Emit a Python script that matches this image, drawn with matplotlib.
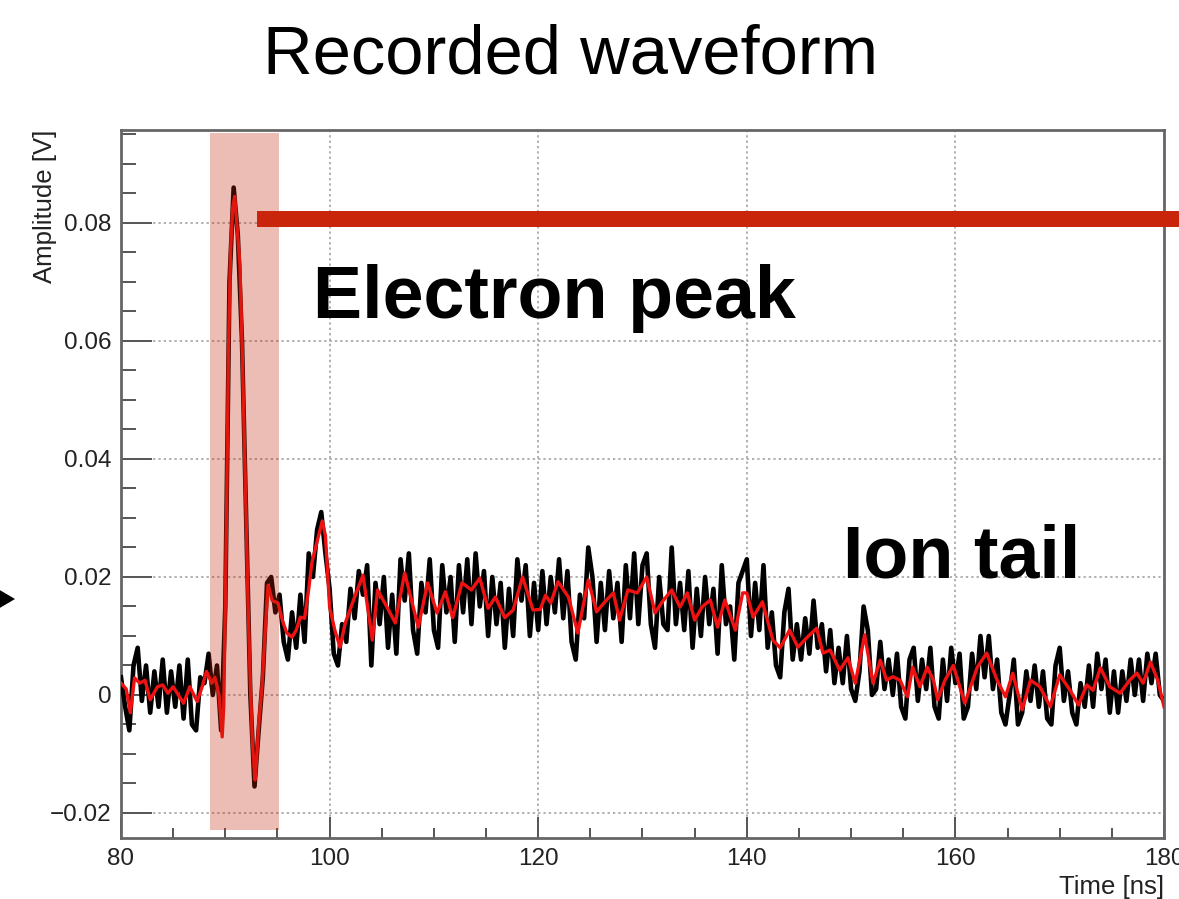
import numpy as np
import matplotlib.pyplot as plt
from matplotlib.patches import Rectangle, Polygon
from matplotlib.ticker import MultipleLocator

plt.rcParams['font.family'] = ['Liberation Sans', 'DejaVu Sans']

# raw scope trace, one sample every 0.4 ns starting at 80 ns (mV)
t0, dt = 80.0, 0.4
raw_mv = [
    3, -2, -6, 5, 8, -1, 5, -3, 4, -2,
    6, -3, 4, -2, 5, -4, 6, -5, -6, 3,
    2, 7, 0, 5, -6, 15, 70, 86, 78, 60,
    30, 0, -15.5, -6, 3, 19, 20, 14, 17, 9,
    6, 14, 8, 17, 9, 24, 20, 28, 31, 24,
    18, 7, 5, 12, 9, 18, 13, 21, 17, 22,
    5, 19, 12, 20, 8, 17, 7, 23, 16, 24,
    11, 7, 19, 14, 23, 11, 8, 22, 14, 20,
    9, 22, 14, 23, 12, 24, 15, 21, 10, 20,
    12, 19, 8, 18, 10, 23, 16, 22, 10, 19,
    11, 21, 12, 20, 14, 23, 13, 21, 9, 6,
    17, 13, 25, 20, 9, 19, 11, 21, 13, 19,
    9, 22, 13, 24, 12, 22, 24, 12, 8, 20,
    12, 11, 25, 12, 19, 11, 21, 8, 18, 10,
    20, 12, 18, 7, 22, 12, 15, 6, 19, 21,
    23, 10, 19, 11, 22, 8, 14, 5, 3, 14,
    18, 6, 12, 6, 13, 7, 16, 8, 12, 4,
    11, 2, 8, 2, 10, 1, -1, 4, 15, 11,
    0, 1, 9, 1, 6, 0, 7, -2, -4, 6,
    8, -1, 6, 1, 8, -2, -4, 6, -1, 8,
    2, 7, -4, -2, 7, 1, 10, 3, 10, 1,
    6, -3, -5, 0, 6, -5, -3, 4, -1, 5,
    -2, 4, -4, -5, 5, 8, -1, 4, -3, -5,
    2, -2, 5, -2, 7, 1, 6, -3, 4, -3,
    4, -1, 6, 0, 6, -1, 7, 2, 7, 0,
    -1,
]

# smoothed trace (red)
fit_t = [80.0, 80.5, 80.9, 81.3, 81.8, 82.3, 82.8, 83.5, 84.0, 84.5,
         85.0, 85.5, 86.0, 86.6, 87.3, 87.8, 88.2, 88.7, 89.0, 89.4,
         89.7, 89.85, 90.0, 90.15, 90.3, 90.5, 90.7, 90.9, 91.1, 91.4,
         91.6, 91.8, 92.0, 92.2, 92.4, 92.6, 92.85, 93.0, 93.2, 93.5,
         93.8, 94.1, 94.5, 95.05, 95.5, 95.9, 96.4, 96.8, 97.2, 97.6,
         98.0, 98.3, 98.8, 99.3, 99.6, 100.0, 100.5, 101.0, 101.5, 102.4,
         103.2, 104.1, 104.6, 105.5, 106.3, 107.2, 108.5, 109.4, 110.3, 111.1,
         111.8, 112.7, 113.6, 114.4, 115.2, 115.9, 116.8, 117.6, 118.5, 119.5,
         120.2, 120.7, 121.2, 121.9, 122.9, 123.8, 124.8, 125.6, 126.4, 127.2,
         127.8, 128.6, 129.5, 130.4, 131.2, 131.9, 132.8, 133.6, 134.3, 135.0,
         135.7, 136.5, 137.2, 137.9, 138.9, 139.6, 140.0, 140.6, 141.5, 142.5,
         143.2, 144.1, 144.9, 145.8, 146.7, 147.3, 148.0, 148.9, 149.7, 150.4,
         151.3, 152.1, 152.8, 153.4, 154.0, 154.7, 155.4, 155.9, 156.6, 157.3,
         157.9, 158.3, 159.0, 159.8, 160.9, 162.1, 163.0, 164.0, 164.8, 165.5,
         166.4, 167.2, 168.1, 169.1, 170.0, 171.0, 171.8, 172.6, 173.2, 173.9,
         174.8, 175.8, 176.7, 177.4, 178.0, 178.7, 179.4, 180.0]
fit_mv = [2.0, 1.0, -3.0, 2.9, 2.0, 2.5, -0.8, 1.4, 1.7, 0.3,
          1.4, 0.0, -1.4, 1.4, -1.1, 1.5, 4.0, 2.0, 3.0, 0.0,
          -7.1, -2, 15, 35, 58, 75, 82.5, 84.5, 80, 73,
          60, 45, 30, 14, 2, -8, -14.4, -11, -5, 1,
          10, 18.6, 16, 15.6, 12.5, 10.5, 9.8, 11, 13.2, 13,
          18, 22.4, 26, 29.5, 27, 14.9, 11, 8.1, 12.2, 16.6,
          20.3, 9.3, 17.8, 14.9, 12.2, 20.7, 11.5, 19.0, 13.9, 17.5,
          13.1, 19.0, 17.8, 19.8, 14.7, 16.6, 13.1, 14.4, 20.0, 14.4,
          14.5, 16.9, 15.6, 19.2, 16.6, 10.5, 19.5, 14.1, 15.8, 17.3,
          12.7, 17.8, 17.3, 20.0, 13.9, 15.8, 17.8, 14.9, 17.3, 12.7,
          14.9, 16.1, 11.5, 16.1, 11.0, 17.3, 17.3, 13.2, 15.8, 9.3,
          8.0, 11.0, 8.1, 9.8, 11.3, 7.1, 7.6, 4.2, 6.3, 2.0,
          10.2, 2.0, 5.9, 2.5, 3.1, 2.5, -0.3, 4.7, 1.4, 4.7,
          2.5, -0.8, 2.5, 5.0, -1.4, 4.7, 7.1, 2.5, -0.3, 3.7,
          -2.5, 2.5, 1.4, -2.0, 3.4, 0.8, -1.7, 1.7, 0.8, 4.6,
          1.4, 0.3, 2.5, 3.7, 2.0, 5.6, 2.5, -2.0]

xticks = [80, 100, 120, 140, 160, 180]
yticks = [-0.02, 0, 0.02, 0.04, 0.06, 0.08]
ytick_labels = ['\u22120.02', '0', '0.02', '0.04', '0.06', '0.08']

raw_t = t0 + dt * np.arange(len(raw_mv))
raw_v = np.array(raw_mv) / 1000.0
fit_v = np.array(fit_mv) / 1000.0

W, H = 1179, 899
fig = plt.figure(figsize=(W / 100, H / 100), dpi=100)
ax = fig.add_axes([121 / W, 1 - 838 / H, (1164 - 121) / W, (838 - 130) / H])

ax.plot(raw_t, raw_v, color='black', lw=3.3, solid_joinstyle='round', zorder=3)
ax.plot(fit_t, fit_v, color='#f01212', lw=2.4, solid_joinstyle='round', zorder=4)

ax.set_xlim(80, 180)
ax.set_ylim(-0.02424, 0.09576)

ax.set_xticks(xticks)
ax.set_xticklabels([str(v) for v in xticks])
ax.set_yticks(yticks)
ax.set_yticklabels(ytick_labels)
ax.xaxis.set_minor_locator(MultipleLocator(5))
ax.yaxis.set_minor_locator(MultipleLocator(0.005))

ax.tick_params(which='both', direction='in', colors='#555555', labelcolor='#222222',
               width=1.4, labelsize=17.5, top=False, right=False)
ax.tick_params(axis='y', which='major', length=22, pad=7)
ax.tick_params(axis='y', which='minor', length=11)
ax.tick_params(axis='x', which='major', length=15, pad=7)
ax.tick_params(axis='x', which='minor', length=7.5)

ax.grid(True, which='major', color='#9a9a9a', lw=1.1, ls=(0, (1.5, 2)), zorder=1)
for sp in ax.spines.values():
    sp.set_color('#666666')
    sp.set_linewidth(2.0)

# highlight box over the electron peak
ax.add_patch(Rectangle((88.53, -0.02288), 95.15 - 88.53, 0.09525 + 0.02288,
                       facecolor='#c0250a', alpha=0.3, lw=0, zorder=6))

# annotation bar and arrow head in figure pixels
fig.patches.append(Rectangle((257 / W, 1 - 227 / H), 1 - 257 / W, 16 / H,
                             transform=fig.transFigure, facecolor='#c8250a',
                             lw=0, zorder=7))
fig.patches.append(Polygon([(-2 / W, 1 - 589 / H), (15 / W, 1 - 599 / H), (-2 / W, 1 - 609 / H)],
                           closed=True, transform=fig.transFigure, facecolor='black',
                           lw=0, zorder=7))

fig.text(263 / W, 1 - 73 / H, 'Recorded waveform', fontsize=49.5, va='baseline', ha='left')
fig.text(313 / W, 1 - 318 / H, 'Electron peak', fontsize=53, fontweight='bold',
         va='baseline', ha='left', zorder=8)
fig.text(843 / W, 1 - 577 / H, 'Ion tail', fontsize=53, fontweight='bold',
         va='baseline', ha='left', zorder=8)
fig.text(1164 / W, 1 - 894 / H, 'Time [ns]', fontsize=18.5, color='#222222',
         va='baseline', ha='right')
fig.text(45.5 / W, 1 - 130 / H, 'Amplitude [V]', fontsize=18.5, color='#222222',
         rotation=90, va='top', ha='center')

fig.savefig('out.png', dpi=100)
